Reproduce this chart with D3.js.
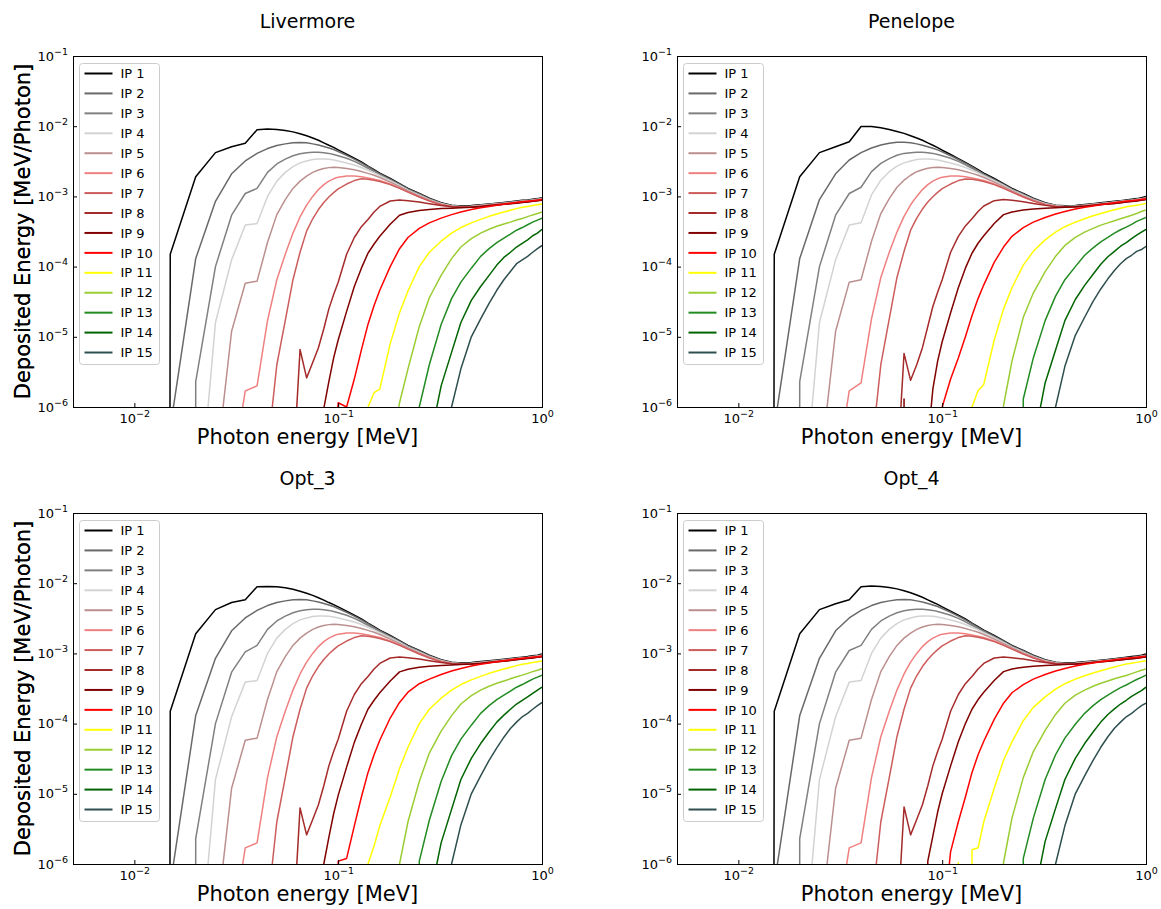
<!DOCTYPE html>
<html>
<head>
<meta charset="utf-8">
<script src="https://cdn.jsdelivr.net/npm/d3@7"></script>
<style>
html,body{margin:0;padding:0;background:#fff;}
svg{display:block;}
text{font-family:"DejaVu Sans",sans-serif;fill:#000;}
</style>
</head>
<body>
<svg id="chart" width="1161" height="909"></svg>
<script>
// ---------------- DATA ----------------
// Photon energies (MeV). Each series below is aligned to the END of this list.
const energies = [0.01,0.015,0.02,0.025,0.03,0.035,0.04,0.045,0.05,0.055,0.06,0.065,0.07,0.075,0.08,0.085,0.09,0.095,0.1,0.11,0.12,0.13,0.14,0.15,0.16,0.18,0.2,0.22,0.25,0.28,0.32,0.36,0.4,0.45,0.5,0.55,0.6,0.65,0.7,0.75,0.8,0.85,0.9,0.95,1.0];

const seriesNames = ["IP 1","IP 2","IP 3","IP 4","IP 5","IP 6","IP 7","IP 8","IP 9","IP 10","IP 11","IP 12","IP 13","IP 14","IP 15"];
const seriesColors = ["#000000","#696969","#808080","#d3d3d3","#bc8f8f","#f08080","#cd5c5c","#a52a2a","#800000","#ff0000","#ffff00","#9acd32","#228b22","#006400","#2f4f4f"];
const panelTitles = ["Livermore","Penelope","Opt_3","Opt_4"];
const xTickValues = [0.01, 0.1, 1];
const xTickExponents = ["\u22122","\u22121","0"];
const yTickValues = [1e-6,1e-5,1e-4,1e-3,1e-2,1e-1];
const yTickExponents = ["\u22126","\u22125","\u22124","\u22123","\u22122","\u22121"];
const xLabel = "Photon energy [MeV]";
const yLabel = "Deposited Energy [MeV/Photon]";

// Deposited energy (MeV/photon); 0 = nothing deposited (drawn below the axis)
const livermore = [
 [0,1.5e-4,1.9e-3,4.2e-3,5.1e-3,5.7e-3,8.9e-3,9.1e-3,9.0e-3,8.7e-3,8.3e-3,7.8e-3,7.3e-3,6.8e-3,6.3e-3,5.8e-3,5.35e-3,5.0e-3,4.6e-3,4.0e-3,3.5e-3,3.1e-3,2.7e-3,2.4e-3,2.15e-3,1.8e-3,1.52e-3,1.3e-3,1.1e-3,9.4e-4,8.1e-4,7.5e-4,7.3e-4,7.4e-4,7.6e-4,7.8e-4,8.0e-4,8.2e-4,8.4e-4,8.6e-4,8.8e-4,8.9e-4,9.1e-4,9.3e-4,9.6e-4],
 [5e-7,1.3e-4,8.5e-4,2.1e-3,3.2e-3,4.1e-3,4.8e-3,5.3e-3,5.6e-3,5.8e-3,5.85e-3,5.8e-3,5.6e-3,5.4e-3,5.15e-3,4.9e-3,4.65e-3,4.35e-3,3.85e-3,3.4e-3,3.0e-3,2.65e-3,2.35e-3,2.1e-3,1.76e-3,1.49e-3,1.28e-3,1.08e-3,9.3e-4,8.0e-4,7.4e-4,7.2e-4,7.3e-4,7.5e-4,7.7e-4,7.9e-4,8.1e-4,8.3e-4,8.5e-4,8.7e-4,8.8e-4,9.0e-4,9.2e-4,9.4e-4],
 [0,2.3e-6,1.0e-4,5.4e-4,1.1e-3,1.3e-3,2.2e-3,2.9e-3,3.4e-3,3.8e-3,4.05e-3,4.2e-3,4.25e-3,4.25e-3,4.2e-3,4.1e-3,3.95e-3,3.8e-3,3.5e-3,3.15e-3,2.82e-3,2.52e-3,2.27e-3,2.04e-3,1.71e-3,1.46e-3,1.25e-3,1.06e-3,9.15e-4,7.95e-4,7.35e-4,7.15e-4,7.25e-4,7.45e-4,7.65e-4,7.85e-4,8.0e-4,8.2e-4,8.4e-4,8.6e-4,8.7e-4,8.9e-4,9.1e-4,9.3e-4],
 [1e-8,1.6e-5,1.25e-4,3.9e-4,4.1e-4,1.0e-3,1.65e-3,2.2e-3,2.65e-3,3.0e-3,3.2e-3,3.35e-3,3.4e-3,3.4e-3,3.38e-3,3.3e-3,3.2e-3,3.0e-3,2.8e-3,2.58e-3,2.36e-3,2.16e-3,1.97e-3,1.67e-3,1.43e-3,1.23e-3,1.04e-3,9.0e-4,7.85e-4,7.3e-4,7.1e-4,7.2e-4,7.4e-4,7.6e-4,7.8e-4,7.95e-4,8.1e-4,8.3e-4,8.5e-4,8.6e-4,8.8e-4,9.0e-4,9.2e-4],
 [1.1e-7,1.2e-5,5.8e-5,6.2e-5,2.2e-4,5.5e-4,9.0e-4,1.3e-3,1.65e-3,1.95e-3,2.2e-3,2.38e-3,2.5e-3,2.57e-3,2.6e-3,2.58e-3,2.5e-3,2.4e-3,2.27e-3,2.13e-3,2.0e-3,1.86e-3,1.6e-3,1.38e-3,1.2e-3,1.01e-3,8.8e-4,7.7e-4,7.25e-4,7.1e-4,7.15e-4,7.35e-4,7.55e-4,7.75e-4,7.9e-4,8.05e-4,8.25e-4,8.45e-4,8.55e-4,8.75e-4,8.95e-4,9.15e-4],
 [1e-7,1.7e-6,2.0e-6,1.7e-5,6.5e-5,1.5e-4,3.0e-4,5.1e-4,7.5e-4,1.0e-3,1.25e-3,1.47e-3,1.65e-3,1.78e-3,1.88e-3,1.95e-3,1.95e-3,1.9e-3,1.83e-3,1.76e-3,1.68e-3,1.5e-3,1.32e-3,1.16e-3,9.9e-4,8.7e-4,7.65e-4,7.2e-4,7.05e-4,7.1e-4,7.3e-4,7.5e-4,7.7e-4,7.85e-4,8.0e-4,8.2e-4,8.4e-4,8.5e-4,8.7e-4,8.9e-4,9.1e-4],
 [2.3e-7,4e-6,1.7e-5,6.5e-5,1.6e-4,3.2e-4,4.8e-4,6.5e-4,8.2e-4,9.8e-4,1.13e-3,1.28e-3,1.5e-3,1.68e-3,1.78e-3,1.76e-3,1.7e-3,1.63e-3,1.47e-3,1.3e-3,1.15e-3,9.8e-4,8.6e-4,7.6e-4,7.15e-4,7.0e-4,7.05e-4,7.25e-4,7.45e-4,7.65e-4,7.8e-4,7.95e-4,8.15e-4,8.3e-4,8.45e-4,8.6e-4,8.8e-4,9.0e-4],
 [1.1e-7,6.6e-6,2.6e-6,4.3e-6,7e-6,1.3e-5,2.5e-5,4.0e-5,6.0e-5,1.5e-4,2.6e-4,3.7e-4,4.7e-4,6.0e-4,7.2e-4,8.6e-4,8.9e-4,8.7e-4,8.3e-4,7.85e-4,7.4e-4,7.1e-4,7.0e-4,7.05e-4,7.2e-4,7.4e-4,7.6e-4,7.75e-4,7.9e-4,8.1e-4,8.25e-4,8.4e-4,8.55e-4,8.75e-4,8.9e-4],
 [0,9.5e-7,2.3e-6,5e-6,9e-6,2.3e-5,5.2e-5,9.5e-5,1.55e-4,2.1e-4,2.7e-4,4.0e-4,5.4e-4,5.9e-4,6.3e-4,6.5e-4,6.7e-4,6.8e-4,6.9e-4,7.0e-4,7.15e-4,7.35e-4,7.55e-4,7.7e-4,7.85e-4,8.0e-4,8.2e-4,8.35e-4,8.5e-4,8.7e-4,8.85e-4],
 [1e-7,1.15e-6,1.0e-6,2.5e-6,6.5e-6,1.5e-5,2.8e-5,4.6e-5,1.0e-4,1.8e-4,2.6e-4,3.5e-4,4.2e-4,4.9e-4,5.5e-4,6.0e-4,6.5e-4,6.9e-4,7.2e-4,7.5e-4,7.75e-4,8.0e-4,8.2e-4,8.4e-4,8.55e-4,8.7e-4,8.85e-4,9.0e-4],
 [0,1.0e-6,1.6e-6,1.8e-6,8e-6,2.2e-5,4.5e-5,1.0e-4,1.6e-4,2.3e-4,3.0e-4,3.6e-4,4.2e-4,4.7e-4,5.2e-4,5.6e-4,6.0e-4,6.35e-4,6.7e-4,7.0e-4,7.2e-4,7.4e-4,7.6e-4,7.8e-4],
 [2e-7,1.15e-6,3.5e-6,1.4e-5,3.6e-5,7.5e-5,1.3e-4,1.9e-4,2.5e-4,3.0e-4,3.4e-4,3.75e-4,4.05e-4,4.3e-4,4.6e-4,4.85e-4,5.15e-4,5.45e-4,5.7e-4,6.0e-4],
 [0,1.0e-6,4e-6,1.5e-5,3.5e-5,6.0e-5,9.5e-5,1.4e-4,1.8e-4,2.2e-4,2.55e-4,2.9e-4,3.3e-4,3.6e-4,3.95e-4,4.3e-4,4.6e-4,4.9e-4],
 [3e-7,2e-6,6e-6,1.6e-5,3.3e-5,5.2e-5,7.5e-5,1.05e-4,1.35e-4,1.6e-4,1.9e-4,2.15e-4,2.4e-4,2.75e-4,3.0e-4,3.4e-4],
 [0,1.0e-6,3.5e-6,1.0e-5,1.8e-5,3.0e-5,4.6e-5,6.5e-5,8.5e-5,1.1e-4,1.25e-4,1.4e-4,1.6e-4,1.8e-4,2.0e-4]
];

const penelope = [
 [0,1.5e-4,1.9e-3,4.2e-3,5.1e-3,6.0e-3,9.9e-3,9.9e-3,9.5e-3,9.0e-3,8.4e-3,7.9e-3,7.3e-3,6.8e-3,6.3e-3,5.8e-3,5.35e-3,4.95e-3,4.55e-3,3.95e-3,3.45e-3,3.05e-3,2.7e-3,2.4e-3,2.15e-3,1.8e-3,1.52e-3,1.3e-3,1.1e-3,9.4e-4,8.1e-4,7.5e-4,7.35e-4,7.45e-4,7.65e-4,7.85e-4,8.1e-4,8.3e-4,8.5e-4,8.7e-4,8.9e-4,9.1e-4,9.3e-4,9.6e-4,1.0e-3],
 [5e-7,1.3e-4,9e-4,2.1e-3,3.3e-3,4.2e-3,4.9e-3,5.4e-3,5.7e-3,5.9e-3,5.9e-3,5.8e-3,5.6e-3,5.35e-3,5.1e-3,4.85e-3,4.6e-3,4.3e-3,3.8e-3,3.35e-3,2.97e-3,2.63e-3,2.33e-3,2.08e-3,1.75e-3,1.48e-3,1.27e-3,1.08e-3,9.25e-4,8.0e-4,7.45e-4,7.25e-4,7.35e-4,7.55e-4,7.75e-4,7.95e-4,8.15e-4,8.35e-4,8.55e-4,8.75e-4,8.9e-4,9.1e-4,9.3e-4,9.6e-4],
 [0,2.3e-6,1.0e-4,5.4e-4,1.1e-3,1.35e-3,2.25e-3,2.95e-3,3.45e-3,3.85e-3,4.1e-3,4.2e-3,4.25e-3,4.25e-3,4.2e-3,4.1e-3,3.95e-3,3.8e-3,3.5e-3,3.15e-3,2.82e-3,2.52e-3,2.27e-3,2.04e-3,1.71e-3,1.46e-3,1.25e-3,1.06e-3,9.15e-4,7.95e-4,7.4e-4,7.2e-4,7.3e-4,7.5e-4,7.7e-4,7.9e-4,8.1e-4,8.3e-4,8.5e-4,8.7e-4,8.85e-4,9.05e-4,9.25e-4,9.5e-4],
 [1e-8,1.6e-5,1.25e-4,3.9e-4,4.2e-4,1.05e-3,1.7e-3,2.25e-3,2.7e-3,3.0e-3,3.2e-3,3.35e-3,3.4e-3,3.4e-3,3.38e-3,3.3e-3,3.2e-3,3.0e-3,2.8e-3,2.58e-3,2.36e-3,2.16e-3,1.97e-3,1.67e-3,1.43e-3,1.23e-3,1.04e-3,9.0e-4,7.85e-4,7.35e-4,7.15e-4,7.25e-4,7.45e-4,7.65e-4,7.85e-4,8.05e-4,8.25e-4,8.45e-4,8.65e-4,8.8e-4,9.0e-4,9.2e-4,9.45e-4],
 [1.1e-7,1.2e-5,6.0e-5,6.5e-5,2.3e-4,5.7e-4,9.3e-4,1.35e-3,1.7e-3,2.0e-3,2.25e-3,2.4e-3,2.52e-3,2.58e-3,2.6e-3,2.58e-3,2.5e-3,2.4e-3,2.27e-3,2.13e-3,2.0e-3,1.86e-3,1.6e-3,1.38e-3,1.2e-3,1.01e-3,8.8e-4,7.7e-4,7.3e-4,7.15e-4,7.2e-4,7.4e-4,7.6e-4,7.8e-4,8.0e-4,8.2e-4,8.4e-4,8.6e-4,8.75e-4,8.95e-4,9.15e-4,9.4e-4],
 [1e-7,1.7e-6,2.2e-6,1.8e-5,7e-5,1.6e-4,3.1e-4,5.2e-4,7.6e-4,1.0e-3,1.25e-3,1.47e-3,1.65e-3,1.78e-3,1.88e-3,1.95e-3,1.95e-3,1.9e-3,1.83e-3,1.76e-3,1.68e-3,1.5e-3,1.32e-3,1.16e-3,9.9e-4,8.7e-4,7.65e-4,7.25e-4,7.1e-4,7.15e-4,7.35e-4,7.55e-4,7.75e-4,7.95e-4,8.15e-4,8.35e-4,8.55e-4,8.7e-4,8.9e-4,9.1e-4,9.35e-4],
 [2.3e-7,4e-6,1.8e-5,7e-5,1.65e-4,3.3e-4,4.9e-4,6.6e-4,8.3e-4,9.9e-4,1.14e-3,1.29e-3,1.5e-3,1.68e-3,1.77e-3,1.75e-3,1.7e-3,1.63e-3,1.47e-3,1.3e-3,1.15e-3,9.8e-4,8.6e-4,7.6e-4,7.2e-4,7.05e-4,7.1e-4,7.3e-4,7.5e-4,7.7e-4,7.9e-4,8.1e-4,8.3e-4,8.5e-4,8.65e-4,8.85e-4,9.05e-4,9.3e-4],
 [1.1e-7,5.8e-6,2.4e-6,4.0e-6,7e-6,1.4e-5,2.7e-5,4.3e-5,6.5e-5,1.6e-4,2.7e-4,3.8e-4,4.8e-4,6.1e-4,7.3e-4,8.7e-4,9.0e-4,8.8e-4,8.4e-4,7.9e-4,7.45e-4,7.15e-4,7.05e-4,7.1e-4,7.25e-4,7.45e-4,7.65e-4,7.8e-4,7.95e-4,8.15e-4,8.3e-4,8.5e-4,8.65e-4,8.85e-4,9.0e-4],
 [0,1.3e-6,0,0,0,3e-7,1.8e-6,4.5e-6,8.5e-6,2.2e-5,5e-5,9.5e-5,1.55e-4,2.15e-4,2.75e-4,4.1e-4,5.5e-4,6.0e-4,6.4e-4,6.6e-4,6.8e-4,6.9e-4,7.0e-4,7.1e-4,7.25e-4,7.45e-4,7.65e-4,7.8e-4,7.95e-4,8.1e-4,8.3e-4,8.45e-4,8.6e-4,8.8e-4,9.0e-4],
 [0,1.0e-6,2.5e-6,5e-6,1.0e-5,2.0e-5,3.5e-5,5.5e-5,1.15e-4,1.9e-4,2.7e-4,3.6e-4,4.3e-4,5.0e-4,5.6e-4,6.1e-4,6.6e-4,7.0e-4,7.3e-4,7.6e-4,7.85e-4,8.1e-4,8.3e-4,8.5e-4,8.7e-4,8.85e-4,9.0e-4,9.2e-4],
 [0,1.0e-6,1.7e-6,2.1e-6,9e-6,2.5e-5,5e-5,1.05e-4,1.65e-4,2.4e-4,3.1e-4,3.7e-4,4.3e-4,4.8e-4,5.3e-4,5.7e-4,6.1e-4,6.45e-4,6.8e-4,7.1e-4,7.3e-4,7.5e-4,7.7e-4,7.9e-4],
 [0,1.05e-6,4.5e-6,1.9e-5,4.2e-5,8.5e-5,1.4e-4,2.0e-4,2.6e-4,3.1e-4,3.5e-4,3.9e-4,4.2e-4,4.5e-4,4.8e-4,5.1e-4,5.4e-4,5.7e-4,6.1e-4,6.4e-4],
 [0,1.3e-6,5e-6,1.7e-5,3.8e-5,6.5e-5,1.0e-4,1.45e-4,1.85e-4,2.25e-4,2.6e-4,3.0e-4,3.35e-4,3.65e-4,4.0e-4,4.4e-4,4.7e-4,5.0e-4],
 [3e-7,2.2e-6,6.5e-6,1.7e-5,3.4e-5,5.4e-5,7.8e-5,1.08e-4,1.38e-4,1.65e-4,1.95e-4,2.2e-4,2.5e-4,2.8e-4,3.1e-4,3.4e-4],
 [0,1.0e-6,3.8e-6,1.05e-5,1.9e-5,3.2e-5,4.8e-5,6.7e-5,8.8e-5,1.1e-4,1.3e-4,1.45e-4,1.65e-4,1.75e-4,1.95e-4]
];

const opt3 = [
 [0,1.5e-4,1.9e-3,4.2e-3,5.3e-3,5.8e-3,8.9e-3,9.0e-3,8.9e-3,8.6e-3,8.2e-3,7.7e-3,7.2e-3,6.7e-3,6.2e-3,5.75e-3,5.3e-3,4.95e-3,4.6e-3,4.0e-3,3.5e-3,3.1e-3,2.7e-3,2.4e-3,2.15e-3,1.8e-3,1.52e-3,1.3e-3,1.1e-3,9.4e-4,8.1e-4,7.5e-4,7.3e-4,7.45e-4,7.65e-4,7.85e-4,8.05e-4,8.25e-4,8.45e-4,8.65e-4,8.85e-4,9.0e-4,9.25e-4,9.45e-4,9.8e-4],
 [5e-7,1.3e-4,8.5e-4,2.1e-3,3.2e-3,4.1e-3,4.8e-3,5.3e-3,5.6e-3,5.8e-3,5.85e-3,5.8e-3,5.6e-3,5.4e-3,5.15e-3,4.9e-3,4.65e-3,4.35e-3,3.85e-3,3.4e-3,3.0e-3,2.65e-3,2.35e-3,2.1e-3,1.76e-3,1.49e-3,1.28e-3,1.08e-3,9.3e-4,8.0e-4,7.4e-4,7.2e-4,7.3e-4,7.5e-4,7.7e-4,7.9e-4,8.1e-4,8.3e-4,8.5e-4,8.7e-4,8.85e-4,9.05e-4,9.25e-4,9.5e-4],
 [0,2.3e-6,1.0e-4,5.4e-4,1.05e-3,1.3e-3,2.2e-3,2.9e-3,3.4e-3,3.8e-3,4.05e-3,4.2e-3,4.25e-3,4.25e-3,4.2e-3,4.1e-3,3.95e-3,3.8e-3,3.5e-3,3.15e-3,2.82e-3,2.52e-3,2.27e-3,2.04e-3,1.71e-3,1.46e-3,1.25e-3,1.06e-3,9.15e-4,7.95e-4,7.35e-4,7.15e-4,7.25e-4,7.45e-4,7.65e-4,7.85e-4,8.05e-4,8.25e-4,8.45e-4,8.65e-4,8.8e-4,9.0e-4,9.2e-4,9.4e-4],
 [1e-8,1.6e-5,1.25e-4,3.9e-4,4.1e-4,1.0e-3,1.65e-3,2.2e-3,2.65e-3,3.0e-3,3.2e-3,3.35e-3,3.4e-3,3.4e-3,3.38e-3,3.3e-3,3.2e-3,3.0e-3,2.8e-3,2.58e-3,2.36e-3,2.16e-3,1.97e-3,1.67e-3,1.43e-3,1.23e-3,1.04e-3,9.0e-4,7.85e-4,7.3e-4,7.1e-4,7.2e-4,7.4e-4,7.6e-4,7.8e-4,8.0e-4,8.2e-4,8.4e-4,8.6e-4,8.7e-4,8.9e-4,9.1e-4,9.3e-4],
 [1.1e-7,1.2e-5,5.8e-5,6.2e-5,2.2e-4,5.5e-4,9.0e-4,1.3e-3,1.65e-3,1.95e-3,2.2e-3,2.38e-3,2.5e-3,2.57e-3,2.6e-3,2.58e-3,2.5e-3,2.4e-3,2.27e-3,2.13e-3,2.0e-3,1.86e-3,1.6e-3,1.38e-3,1.2e-3,1.01e-3,8.8e-4,7.7e-4,7.25e-4,7.1e-4,7.15e-4,7.35e-4,7.55e-4,7.75e-4,7.95e-4,8.15e-4,8.35e-4,8.55e-4,8.65e-4,8.85e-4,9.05e-4,9.25e-4],
 [1e-7,1.7e-6,2.0e-6,1.7e-5,6.5e-5,1.5e-4,3.0e-4,5.1e-4,7.5e-4,1.0e-3,1.25e-3,1.47e-3,1.65e-3,1.78e-3,1.88e-3,1.95e-3,1.95e-3,1.9e-3,1.83e-3,1.76e-3,1.68e-3,1.5e-3,1.32e-3,1.16e-3,9.9e-4,8.7e-4,7.65e-4,7.2e-4,7.05e-4,7.1e-4,7.3e-4,7.5e-4,7.7e-4,7.9e-4,8.1e-4,8.3e-4,8.5e-4,8.6e-4,8.8e-4,9.0e-4,9.2e-4],
 [2.3e-7,4e-6,1.7e-5,6.5e-5,1.6e-4,3.2e-4,4.8e-4,6.5e-4,8.2e-4,9.8e-4,1.13e-3,1.28e-3,1.5e-3,1.68e-3,1.78e-3,1.76e-3,1.7e-3,1.63e-3,1.47e-3,1.3e-3,1.15e-3,9.8e-4,8.6e-4,7.6e-4,7.15e-4,7.0e-4,7.05e-4,7.25e-4,7.45e-4,7.65e-4,7.85e-4,8.05e-4,8.25e-4,8.4e-4,8.55e-4,8.7e-4,8.9e-4,9.1e-4],
 [1.1e-7,6.3e-6,2.6e-6,4.3e-6,7e-6,1.3e-5,2.5e-5,4.0e-5,6.0e-5,1.5e-4,2.6e-4,3.7e-4,4.7e-4,6.0e-4,7.2e-4,8.6e-4,8.9e-4,8.7e-4,8.3e-4,7.85e-4,7.4e-4,7.1e-4,7.0e-4,7.05e-4,7.2e-4,7.4e-4,7.6e-4,7.8e-4,8.0e-4,8.2e-4,8.35e-4,8.5e-4,8.65e-4,8.85e-4,9.0e-4],
 [0,1.0e-6,2.4e-6,5.2e-6,9.5e-6,2.4e-5,5.4e-5,9.8e-5,1.6e-4,2.15e-4,2.75e-4,4.05e-4,5.45e-4,5.95e-4,6.35e-4,6.55e-4,6.75e-4,6.85e-4,6.95e-4,7.05e-4,7.2e-4,7.4e-4,7.6e-4,7.75e-4,7.9e-4,8.1e-4,8.3e-4,8.45e-4,8.6e-4,8.8e-4,8.95e-4],
 [0,1.1e-6,1.2e-6,3.5e-6,9e-6,2.0e-5,3.6e-5,5.8e-5,1.2e-4,2.0e-4,2.8e-4,3.7e-4,4.3e-4,5.0e-4,5.6e-4,6.1e-4,6.6e-4,7.0e-4,7.3e-4,7.6e-4,7.85e-4,8.1e-4,8.3e-4,8.5e-4,8.65e-4,8.8e-4,8.95e-4,9.1e-4],
 [0,1.0e-6,1.8e-6,3.5e-6,9e-6,2.3e-5,4.6e-5,1.0e-4,1.6e-4,2.3e-4,3.0e-4,3.6e-4,4.2e-4,4.7e-4,5.2e-4,5.6e-4,6.0e-4,6.35e-4,6.7e-4,7.0e-4,7.2e-4,7.4e-4,7.6e-4,7.8e-4],
 [0,1.0e-6,4e-6,1.5e-5,3.8e-5,7.8e-5,1.3e-4,1.9e-4,2.5e-4,3.0e-4,3.4e-4,3.75e-4,4.05e-4,4.35e-4,4.65e-4,4.9e-4,5.2e-4,5.5e-4,5.75e-4,6.05e-4],
 [0,1.1e-6,4.2e-6,1.5e-5,3.5e-5,6.0e-5,9.5e-5,1.4e-4,1.8e-4,2.2e-4,2.55e-4,2.9e-4,3.3e-4,3.6e-4,3.95e-4,4.3e-4,4.6e-4,4.9e-4],
 [3e-7,2e-6,6e-6,1.6e-5,3.2e-5,5.2e-5,7.6e-5,1.05e-4,1.32e-4,1.6e-4,1.9e-4,2.15e-4,2.4e-4,2.7e-4,3.0e-4,3.3e-4],
 [0,1.0e-6,3.6e-6,1.0e-5,1.8e-5,3.0e-5,4.5e-5,6.4e-5,8.5e-5,1.05e-4,1.25e-4,1.4e-4,1.6e-4,1.8e-4,2.0e-4]
];

const opt4 = [
 [0,1.5e-4,1.9e-3,4.2e-3,5.1e-3,5.8e-3,8.9e-3,9.1e-3,9.0e-3,8.7e-3,8.3e-3,7.8e-3,7.3e-3,6.8e-3,6.3e-3,5.8e-3,5.35e-3,5.0e-3,4.6e-3,4.0e-3,3.5e-3,3.1e-3,2.7e-3,2.4e-3,2.15e-3,1.8e-3,1.52e-3,1.3e-3,1.1e-3,9.4e-4,8.1e-4,7.5e-4,7.3e-4,7.4e-4,7.6e-4,7.8e-4,8.0e-4,8.2e-4,8.4e-4,8.6e-4,8.8e-4,9.0e-4,9.2e-4,9.4e-4,9.8e-4],
 [5e-7,1.3e-4,8.5e-4,2.1e-3,3.2e-3,4.1e-3,4.8e-3,5.3e-3,5.6e-3,5.8e-3,5.85e-3,5.8e-3,5.6e-3,5.4e-3,5.15e-3,4.9e-3,4.65e-3,4.35e-3,3.85e-3,3.4e-3,3.0e-3,2.65e-3,2.35e-3,2.1e-3,1.76e-3,1.49e-3,1.28e-3,1.08e-3,9.3e-4,8.0e-4,7.4e-4,7.2e-4,7.3e-4,7.5e-4,7.7e-4,7.9e-4,8.1e-4,8.3e-4,8.5e-4,8.7e-4,8.8e-4,9.0e-4,9.2e-4,9.4e-4],
 [0,2.3e-6,1.0e-4,5.4e-4,1.1e-3,1.3e-3,2.2e-3,2.9e-3,3.4e-3,3.8e-3,4.05e-3,4.2e-3,4.25e-3,4.25e-3,4.2e-3,4.1e-3,3.95e-3,3.8e-3,3.5e-3,3.15e-3,2.82e-3,2.52e-3,2.27e-3,2.04e-3,1.71e-3,1.46e-3,1.25e-3,1.06e-3,9.15e-4,7.95e-4,7.35e-4,7.15e-4,7.25e-4,7.45e-4,7.65e-4,7.85e-4,8.0e-4,8.2e-4,8.4e-4,8.6e-4,8.7e-4,8.9e-4,9.1e-4,9.3e-4],
 [1e-8,1.6e-5,1.25e-4,3.9e-4,4.1e-4,1.0e-3,1.65e-3,2.2e-3,2.65e-3,3.0e-3,3.2e-3,3.35e-3,3.4e-3,3.4e-3,3.38e-3,3.3e-3,3.2e-3,3.0e-3,2.8e-3,2.58e-3,2.36e-3,2.16e-3,1.97e-3,1.67e-3,1.43e-3,1.23e-3,1.04e-3,9.0e-4,7.85e-4,7.3e-4,7.1e-4,7.2e-4,7.4e-4,7.6e-4,7.8e-4,7.95e-4,8.1e-4,8.3e-4,8.5e-4,8.6e-4,8.8e-4,9.0e-4,9.2e-4],
 [1.1e-7,1.2e-5,5.8e-5,6.2e-5,2.2e-4,5.5e-4,9.0e-4,1.3e-3,1.65e-3,1.95e-3,2.2e-3,2.38e-3,2.5e-3,2.57e-3,2.6e-3,2.58e-3,2.5e-3,2.4e-3,2.27e-3,2.13e-3,2.0e-3,1.86e-3,1.6e-3,1.38e-3,1.2e-3,1.01e-3,8.8e-4,7.7e-4,7.25e-4,7.1e-4,7.15e-4,7.35e-4,7.55e-4,7.75e-4,7.9e-4,8.05e-4,8.25e-4,8.45e-4,8.55e-4,8.75e-4,8.95e-4,9.15e-4],
 [1e-7,1.7e-6,2.0e-6,1.7e-5,6.5e-5,1.5e-4,3.0e-4,5.1e-4,7.5e-4,1.0e-3,1.25e-3,1.47e-3,1.65e-3,1.78e-3,1.88e-3,1.95e-3,1.95e-3,1.9e-3,1.83e-3,1.76e-3,1.68e-3,1.5e-3,1.32e-3,1.16e-3,9.9e-4,8.7e-4,7.65e-4,7.2e-4,7.05e-4,7.1e-4,7.3e-4,7.5e-4,7.7e-4,7.85e-4,8.0e-4,8.2e-4,8.4e-4,8.5e-4,8.7e-4,8.9e-4,9.1e-4],
 [2.3e-7,4e-6,1.7e-5,6.5e-5,1.6e-4,3.2e-4,4.8e-4,6.5e-4,8.2e-4,9.8e-4,1.13e-3,1.28e-3,1.5e-3,1.68e-3,1.78e-3,1.76e-3,1.7e-3,1.63e-3,1.47e-3,1.3e-3,1.15e-3,9.8e-4,8.6e-4,7.6e-4,7.15e-4,7.0e-4,7.05e-4,7.25e-4,7.45e-4,7.65e-4,7.8e-4,7.95e-4,8.15e-4,8.3e-4,8.45e-4,8.6e-4,8.8e-4,9.0e-4],
 [1.1e-7,6.5e-6,2.6e-6,4.3e-6,7e-6,1.3e-5,2.5e-5,4.0e-5,6.0e-5,1.5e-4,2.6e-4,3.7e-4,4.7e-4,6.0e-4,7.2e-4,8.6e-4,8.9e-4,8.7e-4,8.3e-4,7.85e-4,7.4e-4,7.1e-4,7.0e-4,7.05e-4,7.2e-4,7.4e-4,7.6e-4,7.75e-4,7.9e-4,8.1e-4,8.25e-4,8.4e-4,8.55e-4,8.75e-4,8.9e-4],
 [0,1.1e-6,2.5e-6,5.5e-6,1.0e-5,2.5e-5,5.5e-5,1.0e-4,1.6e-4,2.2e-4,2.8e-4,4.1e-4,5.5e-4,6.0e-4,6.35e-4,6.55e-4,6.75e-4,6.85e-4,6.95e-4,7.05e-4,7.2e-4,7.4e-4,7.6e-4,7.75e-4,7.9e-4,8.05e-4,8.25e-4,8.4e-4,8.55e-4,8.75e-4,8.9e-4],
 [1e-7,1.5e-6,4e-6,9e-6,2.0e-5,3.6e-5,5.6e-5,1.15e-4,1.95e-4,2.75e-4,3.6e-4,4.3e-4,5.0e-4,5.6e-4,6.1e-4,6.6e-4,7.0e-4,7.3e-4,7.6e-4,7.85e-4,8.1e-4,8.3e-4,8.5e-4,8.65e-4,8.8e-4,8.95e-4,9.1e-4],
 [0,1.05e-6,0,1.6e-6,1.7e-6,4e-6,1.2e-5,3.0e-5,5.5e-5,1.1e-4,1.7e-4,2.4e-4,3.1e-4,3.7e-4,4.3e-4,4.8e-4,5.25e-4,5.65e-4,6.05e-4,6.4e-4,6.75e-4,7.05e-4,7.25e-4,7.45e-4,7.65e-4,7.85e-4],
 [0,1.05e-6,4.5e-6,1.7e-5,4.0e-5,8e-5,1.35e-4,1.95e-4,2.55e-4,3.0e-4,3.4e-4,3.75e-4,4.05e-4,4.35e-4,4.6e-4,4.85e-4,5.15e-4,5.45e-4,5.75e-4,6.0e-4],
 [0,1.2e-6,4.5e-6,1.6e-5,3.6e-5,6.2e-5,9.8e-5,1.4e-4,1.8e-4,2.2e-4,2.55e-4,2.9e-4,3.25e-4,3.55e-4,3.9e-4,4.25e-4,4.55e-4,4.9e-4],
 [3e-7,2.1e-6,6.2e-6,1.6e-5,3.2e-5,5.2e-5,7.6e-5,1.05e-4,1.35e-4,1.62e-4,1.9e-4,2.15e-4,2.45e-4,2.7e-4,2.95e-4,3.3e-4],
 [0,1.0e-6,3.5e-6,1.0e-5,1.8e-5,3.0e-5,4.6e-5,6.5e-5,8.6e-5,1.05e-4,1.25e-4,1.4e-4,1.6e-4,1.8e-4,1.95e-4]
];

// ---------------- DRAWING ----------------
const svg = d3.select("#chart");
const W = 469, H = 351;
const panelData = [livermore, penelope, opt3, opt4];
const panelOrigins = [[73,56],[677,56],[73,513],[677,513]];

const xScale = d3.scaleLog().domain([0.005, 1]).range([0, W]);
const yScale = d3.scaleLog().domain([1e-6, 1e-1]).range([H, 0]);
const FLOOR = 1e-300; // zero values are drawn far below the axis (clipped)

const defs = svg.append("defs");

function supLabel(textSel, exps) {
  textSel.each(function(d, i) {
    const t = d3.select(this);
    t.text(null);
    t.append("tspan").text("10");
    t.append("tspan").attr("font-size", "9.5px").attr("dy", "-6").text(exps[i]);
  });
}

panelData.forEach((data, pi) => {
  const [ox, oy] = panelOrigins[pi];
  const g = svg.append("g").attr("transform", `translate(${ox},${oy})`);

  defs.append("clipPath").attr("id", "clip" + pi)
    .append("rect").attr("x", 0).attr("y", 0).attr("width", W).attr("height", H);

  // series
  const lineGen = d3.line()
    .x(d => xScale(d[0]))
    .y(d => yScale(d[1] > 0 ? d[1] : FLOOR));
  const lines = g.append("g").attr("clip-path", `url(#clip${pi})`);
  data.forEach((vals, si) => {
    const off = energies.length - vals.length;
    const pts = vals.map((v, i) => [energies[off + i], v]);
    lines.append("path")
      .attr("d", lineGen(pts))
      .attr("fill", "none")
      .attr("stroke", seriesColors[si])
      .attr("stroke-width", 1.5)
      .attr("stroke-linejoin", "round");
  });

  // axes
  const xAxis = d3.axisBottom(xScale).tickValues(xTickValues)
    .tickSizeInner(-4).tickSizeOuter(0).tickPadding(7).tickFormat(() => "");
  const xg = g.append("g").attr("transform", `translate(0,${H})`).call(xAxis);
  xg.select(".domain").remove();
  xg.attr("font-family", null).attr("font-size", 13);
  supLabel(xg.selectAll(".tick text"), xTickExponents);

  const yAxis = d3.axisLeft(yScale).tickValues(yTickValues)
    .tickSizeInner(-4).tickSizeOuter(0).tickPadding(5).tickFormat(() => "");
  const yg = g.append("g").call(yAxis);
  yg.select(".domain").remove();
  yg.attr("font-family", null).attr("font-size", 13);
  supLabel(yg.selectAll(".tick text"), yTickExponents);

  // frame
  g.append("rect").attr("x", 0).attr("y", 0).attr("width", W).attr("height", H)
    .attr("fill", "none").attr("stroke", "#000").attr("stroke-width", 1)
    .attr("shape-rendering", "crispEdges");

  // title
  g.append("text").attr("x", W / 2).attr("y", -28)
    .attr("text-anchor", "middle").attr("font-size", 19).text(panelTitles[pi]);

  // axis labels
  g.append("text").attr("x", W / 2).attr("y", H + 37)
    .attr("text-anchor", "middle").attr("font-size", 21).text(xLabel);
  g.append("text")
    .attr("transform", `translate(${-ox + 29.5},${H / 2}) rotate(-90)`)
    .attr("text-anchor", "middle").attr("font-size", 21).text(yLabel);

  // legend
  const lg = g.append("g").attr("transform", "translate(6.5,7.5)");
  lg.append("rect").attr("x", 0).attr("y", 0).attr("width", 80).attr("height", 301)
    .attr("rx", 3).attr("ry", 3)
    .attr("fill", "#fff").attr("fill-opacity", 0.8)
    .attr("stroke", "#cccccc").attr("stroke-width", 1);
  seriesNames.forEach((name, si) => {
    const cy = 10 + si * 19.93;
    lg.append("line").attr("x1", 5).attr("x2", 33).attr("y1", cy).attr("y2", cy)
      .attr("stroke", seriesColors[si]).attr("stroke-width", 2);
    lg.append("text").attr("x", 41).attr("y", cy).attr("dy", "0.36em")
      .attr("font-size", 13).text(name);
  });
});
</script>
</body>
</html>
